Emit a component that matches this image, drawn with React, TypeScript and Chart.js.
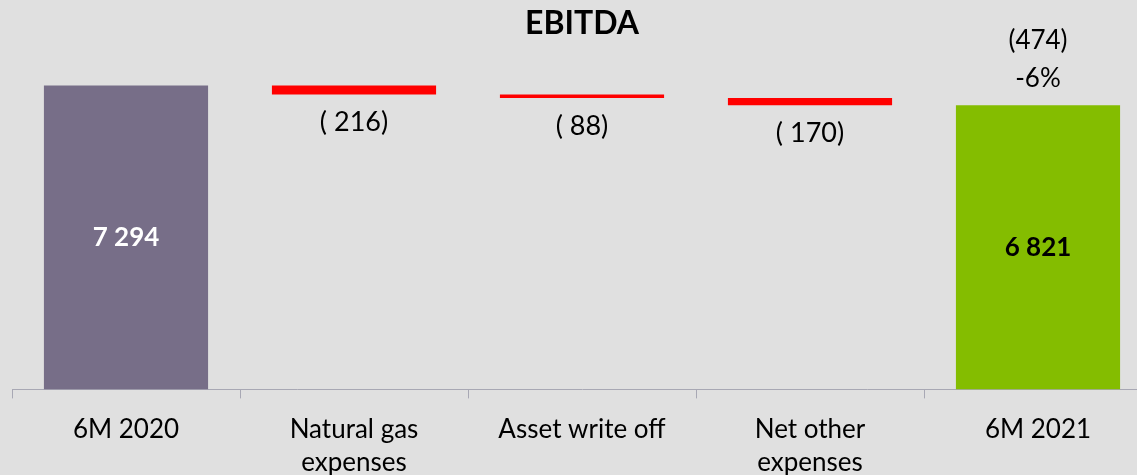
import React, { useEffect, useRef } from "react";
import { Chart, registerables } from "chart.js";

Chart.register(...registerables);

const categories: (string | string[])[] = [
  "6M 2020",
  ["Natural gas", "expenses"],
  "Asset write off",
  ["Net other", "expenses"],
  "6M 2021",
];
const changes = [7294, -216, -88, -170, 6821];
const barTexts = ["7 294", "( 216)", "( 88)", "( 170)", "6 821"];
const totalChangeTexts = ["(474)", "-6%"];
const barColors = ["#776e88", "#ff0000", "#ff0000", "#ff0000", "#84bd00"];

const FONT = "Lato, 'Open Sans', sans-serif";

export default function App() {
  const ref = useRef<HTMLCanvasElement | null>(null);

  useEffect(() => {
    if (!ref.current) return;
    // floating ranges built from the change values
    const ranges: [number, number][] = [];
    let run = 0;
    changes.forEach((v, i) => {
      if (i === 0) {
        ranges.push([0, v]);
        run = v;
      } else if (i === changes.length - 1) {
        ranges.push([0, v]);
      } else {
        ranges.push([run + v, run]);
        run += v;
      }
    });

    const labelPlugin = {
      id: "wfLabels",
      afterDatasetsDraw(chart: any) {
        const ctx = chart.ctx;
        const meta = chart.getDatasetMeta(0);
        ctx.save();
        ctx.textAlign = "center";
        ctx.textBaseline = "middle";
        meta.data.forEach((bar: any, i: number) => {
          const top = Math.min(bar.y, bar.base);
          const bottom = Math.max(bar.y, bar.base);
          if (i === 0 || i === changes.length - 1) {
            ctx.font = `bold 26px ${FONT}`;
            ctx.fillStyle = i === 0 ? "#ffffff" : "#000000";
            ctx.fillText(barTexts[i], bar.x, (top + bottom) / 2);
          } else {
            ctx.font = `27px ${FONT}`;
            ctx.fillStyle = "#000000";
            ctx.fillText(barTexts[i], bar.x, bottom + 28);
          }
          if (i === changes.length - 1) {
            ctx.font = `26px ${FONT}`;
            ctx.fillStyle = "#000000";
            ctx.fillText(totalChangeTexts[0], bar.x, top - 65);
            ctx.fillText(totalChangeTexts[1], bar.x, top - 27);
          }
        });
        ctx.restore();
      },
    };

    const chart = new Chart(ref.current, {
      type: "bar",
      data: {
        labels: categories as any,
        datasets: [
          {
            data: ranges as any,
            backgroundColor: barColors,
            borderWidth: 0,
            borderSkipped: false,
          },
        ],
      },
      options: {
        animation: false,
        responsive: false,
        maintainAspectRatio: false,
        layout: { padding: { left: 12, right: 8, top: 0, bottom: 0 } },
        plugins: {
          legend: { display: false },
          tooltip: { enabled: false },
          title: {
            display: true,
            text: "EBITDA",
            color: "#000000",
            font: { family: FONT, size: 32, weight: "bold", lineHeight: 1.2 },
            padding: { top: 4, bottom: 13.6 },
          },
        },
        scales: {
          y: {
            display: false,
            min: 0,
            max: 8000,
          },
          x: {
            offset: true,
            grid: {
              display: true,
              offset: true,
              drawOnChartArea: false,
              drawTicks: true,
              tickLength: 9,
              color: "#a8a8b4",
            },
            border: { display: true, color: "#a8a8b4", width: 1 },
            ticks: {
              color: "#000000",
              padding: 14,
              maxRotation: 0,
              autoSkip: false,
              font: { family: FONT, size: 26, lineHeight: 1.3 },
            },
          },
        },
      },
      plugins: [labelPlugin],
    });
    return () => chart.destroy();
  }, []);

  return (
    <div
      style={{
        position: "fixed",
        left: 0,
        top: 0,
        width: 1137,
        height: 475,
        overflow: "hidden",
        background: "#e0e0e0",
      }}
    >
      <canvas ref={ref} width={1160} height={494} style={{ display: "block", width: 1160, height: 494 }} />
    </div>
  );
}
